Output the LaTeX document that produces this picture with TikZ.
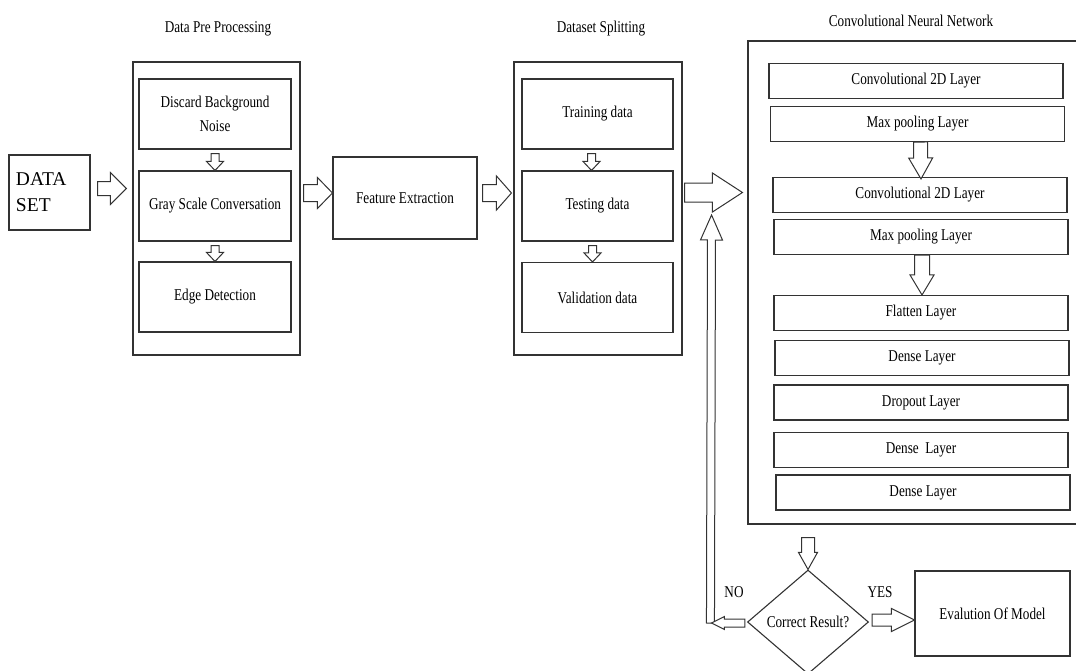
\documentclass[tikz,border=0pt]{standalone}
\usepackage{fontspec}
\setmainfont{Liberation Serif}[FakeStretch=0.8]
\newfontfamily\datafont{Liberation Serif}
\usetikzlibrary{calc,shapes.geometric}

\tikzset{
  panel/.style={draw=black!80, line width=1.1pt},
  stage/.style={draw=black!80, line width=1.1pt, minimum width=152pt, minimum height=70pt, align=center},
  layer/.style={draw=black!80, line width=1.1pt, minimum width=294pt, minimum height=35pt},
  blockarr/.style={draw=black!80, line width=1pt, fill=white, line join=miter}
}

% block arrow: start, tip, shaft half width, head half width, head length
\newcommand{\blockarrow}[5]{%
  \path #1 coordinate (bas) #2 coordinate (bae);
  \coordinate (bah) at ($(bae)!#5!(bas)$);
  \draw[blockarr] ($(bas)!#3!90:(bae)$) -- ($(bah)!#3!-90:(bas)$) -- ($(bah)!#4!-90:(bas)$)
    -- (bae) -- ($(bah)!#4!90:(bas)$) -- ($(bah)!#3!90:(bas)$) -- ($(bas)!#3!-90:(bae)$) -- cycle;
}

\begin{document}
\begin{tikzpicture}[x=1pt, y=-1pt, font=\fontsize{16.5}{24}\selectfont]
    \useasboundingbox (0,0) rectangle (1076,670);

    % Titles
    \node (pretitle) at (218,29) {Data Pre Processing};
    \node (splittitle) at (601,29) {Dataset Splitting};
    \node (cnntitle) at (911,21) {Convolutional Neural Network};

    % Data set
    \node[panel, minimum width=81pt, minimum height=75pt, text width=67pt, inner sep=7pt,
          align=left, font=\datafont\fontsize{19.5}{26}\selectfont] (data) at (49.5,192.5) {DATA\\SET};

    % Data pre processing
    \node[panel, minimum width=167pt, minimum height=293pt] (pre) at (216.5,208.5) {};
    \node[stage] (noise) at (215,114) {Discard Background\\Noise};
    \node[stage] (gray) at (215,206) {Gray Scale Conversation};
    \node[stage] (edge) at (215,297) {Edge Detection};

    % Feature extraction
    \node[stage, minimum width=144pt, minimum height=82pt] (feat) at (405,198) {Feature Extraction};

    % Dataset splitting
    \node[panel, minimum width=168pt, minimum height=293pt] (split) at (598,208.5) {};
    \node[stage, minimum width=151pt] (train) at (597.5,114) {Training data};
    \node[stage, minimum width=151pt] (test) at (597.5,206) {Testing data};
    \node[stage, minimum width=151pt] (valid) at (597.5,297.5) {Validation data};

    % Convolutional neural network
    \node[panel, minimum width=332pt, minimum height=483pt] (cnn) at (914,282.5) {};
    \foreach \name/\x/\y/\label in {conv1/916/81/Convolutional 2D Layer, pool1/917.5/124/Max pooling Layer,
        conv2/920/195/Convolutional 2D Layer, pool2/921/237/Max pooling Layer,
        flat/921/313/Flatten Layer, dense1/922/358/Dense Layer, drop/921/402.5/Dropout Layer,
        dense2/921/450/Dense\ \ Layer, dense3/923/492.5/Dense Layer} {
        \node[layer] (\name) at (\x,\y) {\label};
    }

    % Decision and evaluation
    \node[diamond, panel, minimum width=121pt, minimum height=104pt, inner sep=1pt] (check) at (808,622) {Correct Result?};
    \node[panel, minimum width=155pt, minimum height=85pt] (eval) at (992.5,613.5) {Evalution Of Model};
    \node (yes) at (880,592) {YES};
    \node (no) at (734,592) {NO};

    % Main flow arrows
    \blockarrow{($(data.east)+(7,-4)$)}{($(pre.west)+(-6,-20)$)}{7pt}{16pt}{16pt}
    \blockarrow{($(pre.east)+(3,-15.5)$)}{($(feat.west)+(0,-5)$)}{8.5pt}{15.5pt}{15pt}
    \blockarrow{($(feat.east)+(5,-5)$)}{($(split.west)+(-2,-15.5)$)}{8.5pt}{17pt}{15pt}
    \blockarrow{($(split.east)+(2,-16)$)}{($(cnn.west)+(-5,-90)$)}{9.5pt}{19.5pt}{30pt}

    % Arrows inside the panels
    \blockarrow{($(noise.south)+(0,4)$)}{(gray.north)}{4pt}{8.5pt}{9pt}
    \blockarrow{($(gray.south)+(0,4)$)}{(edge.north)}{4pt}{8.5pt}{9pt}
    \blockarrow{($(train.south)+(-6,4)$)}{($(test.north)+(-6,0)$)}{4pt}{8.5pt}{9pt}
    \blockarrow{($(test.south)+(-5,4)$)}{($(valid.north)+(-5,0)$)}{4pt}{8.5pt}{9pt}
    \blockarrow{($(pool1.south)+(3,0)$)}{($(conv2.north)+(1,2)$)}{7pt}{12pt}{21pt}
    \blockarrow{($(pool2.south)+(1,0)$)}{($(flat.north)+(1,0)$)}{7.5pt}{12pt}{20pt}

    % Result check
    \blockarrow{($(cnn.south)+(-106,13)$)}{(check.north)}{6.5pt}{9.5pt}{17pt}
    \blockarrow{($(check.east)+(3,-2)$)}{($(eval.west)+(0,6.5)$)}{6pt}{11.5pt}{23pt}

    % Loop back on NO
    \coordinate (loopstart) at ($(check.west)+(-35.5,1)$);
    \coordinate (loopend) at ($(split.east)+(29,6.5)$);
    \blockarrow{($(loopstart)+(-1,0)$)}{(loopend)}{4pt}{11pt}{25pt}
    \blockarrow{($(check.west)+(-2,1)$)}{(loopstart)}{4pt}{6.5pt}{13pt}
\end{tikzpicture}
\end{document}
